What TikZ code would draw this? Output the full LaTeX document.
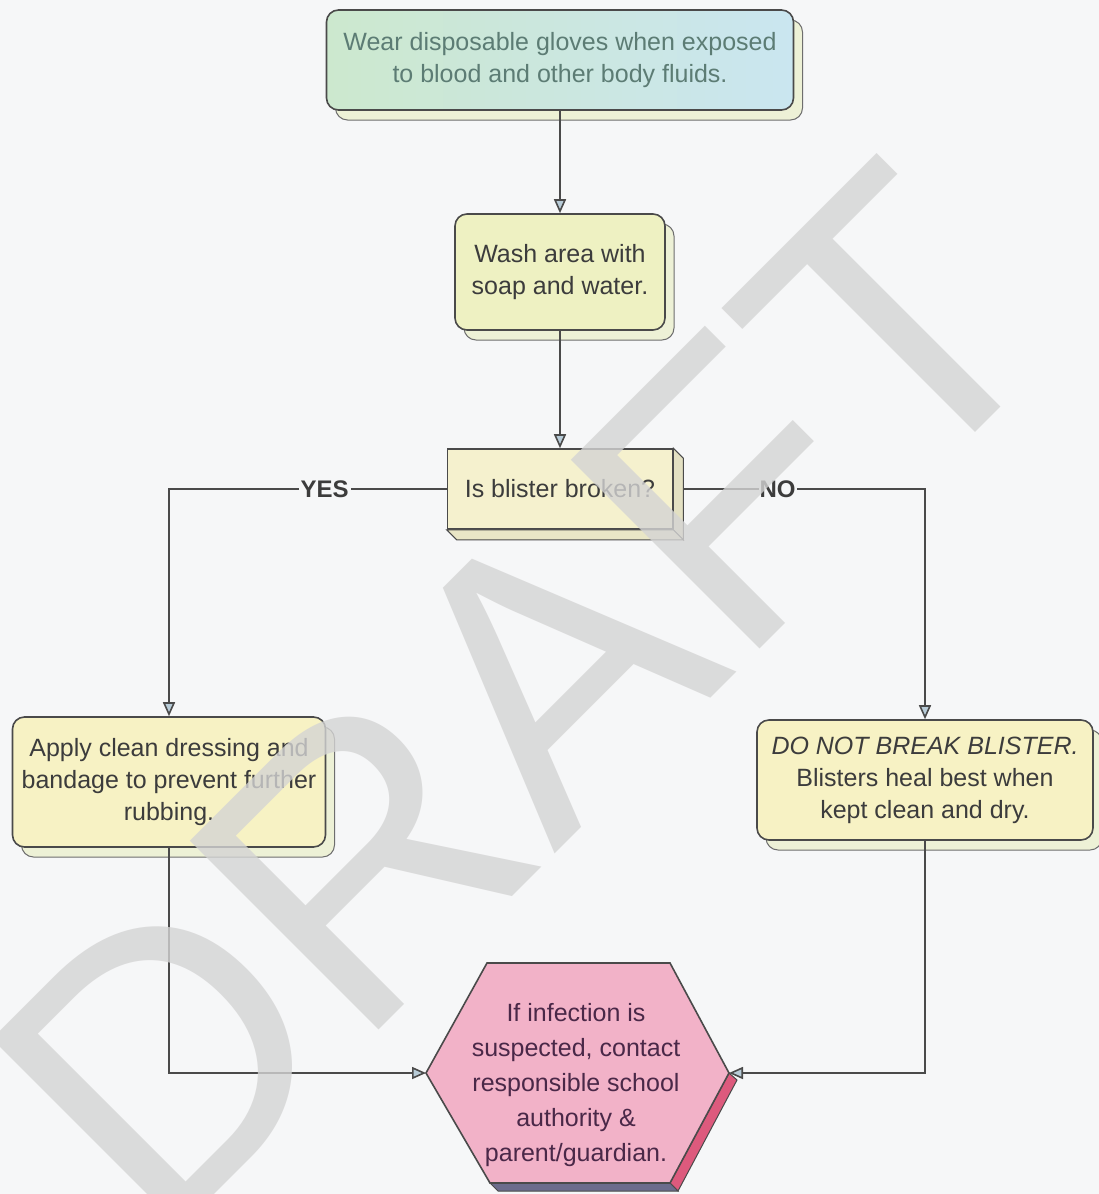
\documentclass[tikz,border=0pt]{standalone}
\usepackage{fontspec}
\setmainfont{Liberation Sans}
\usetikzlibrary{arrows.meta,shadows,calc}
\definecolor{paper}{HTML}{F6F7F8}
\definecolor{ink}{HTML}{3C3C3C}
\definecolor{edge}{HTML}{4A4A4A}
\definecolor{tealtxt}{HTML}{5C7C74}
\definecolor{hextxt}{HTML}{4A2848}
\definecolor{topL}{HTML}{CCE8CE}
\definecolor{topR}{HTML}{CAE6F0}
\definecolor{washfill}{HTML}{EEF1C2}
\definecolor{boxfill}{HTML}{F7F2C4}
\definecolor{decfill}{HTML}{F5F1CE}
\definecolor{shadowfill}{HTML}{EDF1D6}
\definecolor{hexfill}{HTML}{F2B2C8}
\definecolor{hexside}{HTML}{DD5A7D}
\definecolor{hexbottom}{HTML}{6C6C8C}
\definecolor{tipfill}{HTML}{B8CCD8}
\definecolor{mark}{HTML}{D4D4D4}
\tikzset{
  stepbox/.style={draw=edge, line width=1.6pt, rounded corners=12pt, align=center,
    text=ink, font=\fontsize{25}{32}\selectfont, inner sep=0pt,
    general shadow={shadow xshift=9pt, shadow yshift=-10pt, fill=shadowfill, draw=edge!80, line width=1pt}},
  conn/.style={draw=edge, line width=1.6pt},
  arr/.style={conn, -{Triangle[length=14pt,width=12pt,fill=tipfill]}},
  lbl/.style={font=\bfseries\fontsize{24}{28}\selectfont, text=ink, fill=paper, inner sep=2pt},
}
\begin{document}
\begin{tikzpicture}[x=1pt,y=-1pt]
  \fill[paper] (0,0) rectangle (1099,1194);
  \useasboundingbox (0,0) rectangle (1099,1194);

  % process steps
  \node[stepbox, minimum width=467pt, minimum height=100pt, left color=topL, right color=topR, text=tealtxt]
    (top) at (560,60) {Wear disposable gloves when exposed\\to blood and other body fluids.};
  \node[stepbox, minimum width=210pt, minimum height=116pt, fill=washfill]
    (wash) at (560,272) {Wash area with\\soap and water.};

  % decision block with its depth faces
  \node[draw=edge, line width=1.6pt, fill=decfill, minimum width=225pt, minimum height=80pt,
    inner sep=0pt, text=ink, font=\fontsize{25}{32}\selectfont]
    (dec) at (560,489) {Is blister broken?};
  \filldraw[draw=edge, line width=1pt, fill=decfill!85!gray]
    (dec.north east) -- ++(10,10) -- ($(dec.south east)+(10,10)$) -- (dec.south east) -- cycle;
  \filldraw[draw=edge, line width=1pt, fill=decfill!90!gray]
    (dec.south west) -- (dec.south east) -- ($(dec.south east)+(10,10)$) -- ($(dec.south west)+(10,10)$) -- cycle;

  \node[stepbox, minimum width=313pt, minimum height=130pt, fill=boxfill]
    (left) at (169,782) {Apply clean dressing and\\bandage to prevent further\\rubbing.};
  \node[stepbox, minimum width=336pt, minimum height=120pt, fill=boxfill]
    (right) at (925,780) {\textit{DO NOT BREAK BLISTER.}\\Blisters heal best when\\kept clean and dry.};

  % closing hexagon with its side and bottom faces
  \coordinate (hexW) at (426,1073);
  \coordinate (hexE) at (729,1073);
  \coordinate (hTL) at (487,963);
  \coordinate (hTR) at (670,963);
  \coordinate (hBR) at (670,1183);
  \coordinate (hBL) at (490,1183);
  \filldraw[draw=edge, line width=1pt, fill=hexside]
    (hexE) -- ++(8,7) -- ($(hBR)+(8,8)$) -- (hBR) -- cycle;
  \filldraw[draw=edge, line width=1pt, fill=hexbottom]
    (hBL) -- (hBR) -- ($(hBR)+(8,8)$) -- ($(hBL)+(8,8)$) -- cycle;
  \filldraw[draw=edge, line width=1.6pt, fill=hexfill]
    (hexW) -- (hTL) -- (hTR) -- (hexE) -- (hBR) -- (hBL) -- cycle;
  \node[align=center, text=hextxt, font=\fontsize{25}{35}\selectfont, inner sep=0pt]
    (hex) at (576,1085) {If infection is\\suspected, contact\\responsible school\\authority \&\\parent/guardian.};

  % connectors
  \draw[arr] (top.south) -- (wash.north);
  \draw[arr] (wash.south) -- (dec.north);
  \draw[arr] (dec.west) -| node[lbl, pos=0.22] {YES} (left.north);
  \draw[arr] ($(dec.east)+(10,0)$) -| node[lbl, pos=0.195, inner xsep=1pt] {NO} (right.north);
  \draw[arr] (left.south) |- (hexW);
  \draw[arr] (right.south) |- (hexE);

  % watermark
  \node[rotate=45, text=mark, opacity=0.8, inner sep=0pt,
    font=\fontsize{388}{388}\selectfont] (wm) at (521,699) {DRAFT};
\end{tikzpicture}
\end{document}
